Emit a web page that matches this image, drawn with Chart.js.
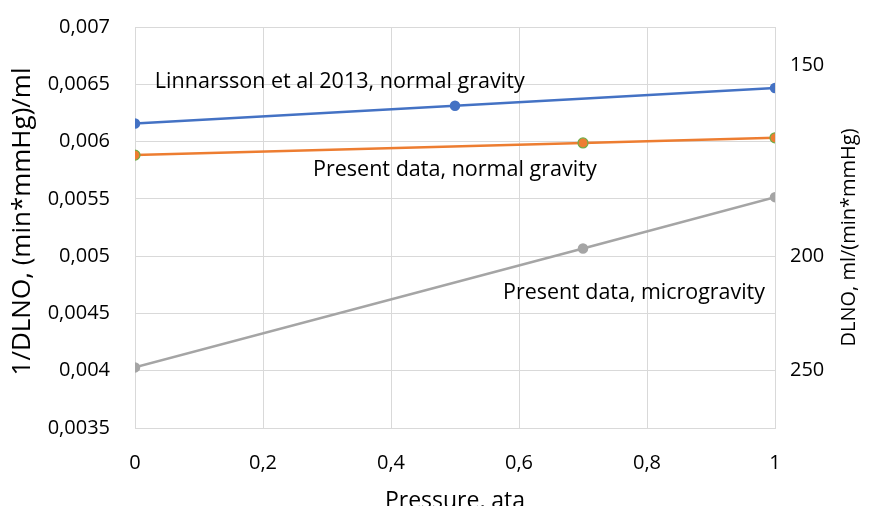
<!DOCTYPE html>
<html><head><meta charset="utf-8">
<script src="https://cdn.jsdelivr.net/npm/chart.js@4"></script>
<style>html,body{margin:0;padding:0;background:#fff}canvas{display:block}</style>
</head><body>
<canvas id="c" width="875" height="506"></canvas>
<script>
// ---- data ----
const linnarssonPressure = [0, 0.5, 1];
const linnarssonInvDL   = [0.006158, 0.006312, 0.006467];
const normalPressure    = [0, 0.7, 1];
const normalInvDL       = [0.005882, 0.005988, 0.006033];
const microPressure     = [0, 0.7, 1];
const microInvDL        = [0.004029, 0.005067, 0.005515];
const rightTickDL       = [150, 200, 250];
const noteTexts = ['Linnarsson et al 2013, normal gravity', 'Present data, normal gravity', 'Present data, microgravity'];
const xTitle = 'Pressure, ata';
const leftTitle = '1/DLNO, (min*mmHg)/ml';
const rightTitle = 'DLNO, ml/(min*mmHg)';

const FONT = "'Open Sans', 'DejaVu Sans', sans-serif";
const toPts = (xs, ys) => xs.map((x, i) => ({x: x, y: ys[i]}));
const comma = s => s.replace('.', ',');

const notesPlugin = {
  id: 'notes',
  afterDraw(chart) {
    const ctx = chart.ctx, xs = chart.scales.x, ys = chart.scales.y;
    const anchors = [[0.031, 0.00652, 370], [0.278, 0.005754, 284], [0.575, 0.00468, 262]];
    ctx.save();
    ctx.fillStyle = '#000';
    ctx.textAlign = 'left';
    ctx.textBaseline = 'middle';
    noteTexts.forEach((t, i) => {
      const [ax, ay, w] = anchors[i];
      ctx.font = '20px ' + FONT;
      const m = ctx.measureText(t).width;
      const size = 20 * w / m;
      ctx.font = size.toFixed(2) + 'px ' + FONT;
      ctx.fillText(t, xs.getPixelForValue(ax), ys.getPixelForValue(ay));
    });
    const mid = (chart.chartArea.top + chart.chartArea.bottom) / 2;
    ctx.textAlign = 'center';
    // left axis title, reading bottom-to-top
    ctx.save();
    ctx.font = '26px ' + FONT;
    ctx.translate(23, mid - 6);
    ctx.rotate(-Math.PI / 2);
    ctx.fillText(leftTitle, 0, 0);
    ctx.restore();
    // right axis title, reading bottom-to-top
    ctx.font = '20px ' + FONT;
    ctx.translate(849, mid + 10);
    ctx.rotate(-Math.PI / 2);
    ctx.fillText(rightTitle, 0, 0);
    ctx.restore();
  }
};

new Chart(document.getElementById('c'), {
  type: 'line',
  data: {
    datasets: [
      { label: 'Linnarsson', data: toPts(linnarssonPressure, linnarssonInvDL),
        borderColor: '#4472C4', backgroundColor: '#4472C4', borderWidth: 2.5,
        pointRadius: 4, pointBorderColor: '#4472C4', pointBackgroundColor: '#4472C4', yAxisID: 'y' },
      { label: 'Normal', data: toPts(normalPressure, normalInvDL),
        borderColor: '#ED7D31', backgroundColor: '#ED7D31', borderWidth: 2.5,
        pointRadius: 5, pointBorderColor: '#70AD47', pointBorderWidth: 1.2, pointBackgroundColor: '#ED7D31', yAxisID: 'y' },
      { label: 'Micro', data: toPts(microPressure, microInvDL),
        borderColor: '#A5A5A5', backgroundColor: '#A5A5A5', borderWidth: 2.5,
        pointRadius: 4, pointBorderColor: '#A5A5A5', pointBackgroundColor: '#A5A5A5', yAxisID: 'y' }
    ]
  },
  options: {
    responsive: false,
    animation: false,
    layout: { padding: { top: 27, left: 0, right: 0, bottom: 0 } },
    plugins: { legend: { display: false }, tooltip: { enabled: false } },
    scales: {
      x: {
        type: 'linear', min: 0, max: 1,
        afterFit: s => { s.height = 78; },
        grid: { color: '#d9d9d9', lineWidth: 1, drawTicks: false },
        border: { color: '#d9d9d9' },
        ticks: { stepSize: 0.2, padding: 23, color: '#000', font: { family: FONT, size: 20 },
                 callback: v => comma((Math.round(v * 10) / 10).toString()) },
        title: { display: true, text: xTitle, color: '#000', font: { family: FONT, size: 23 },
                 padding: { top: 0, bottom: -9 } }
      },
      y: {
        type: 'linear', position: 'left', min: 0.0035, max: 0.007,
        afterFit: s => { s.width = 135; s.paddingTop = 0; s.paddingBottom = 0; },
        grid: { color: '#d9d9d9', lineWidth: 1, drawTicks: false },
        border: { display: false },
        ticks: { stepSize: 0.0005, padding: 25, color: '#000', font: { family: FONT, size: 20 },
                 callback: v => comma((Math.round(v * 1e5) / 1e5).toString()) },
        title: { display: false }
      },
      y2: {
        type: 'linear', position: 'right', min: 0.0035, max: 0.007,
        afterFit: s => { s.width = 100; s.paddingTop = 0; s.paddingBottom = 0; },
        afterBuildTicks: ax => { ax.ticks = rightTickDL.map(d => ({ value: 1 / d })); },
        grid: { display: false, drawTicks: false },
        border: { display: false },
        ticks: { padding: 15, color: '#000', font: { family: FONT, size: 20 },
                 callback: v => String(Math.round(1 / v)) }
      }
    }
  },
  plugins: [notesPlugin]
});
</script>
</body></html>
